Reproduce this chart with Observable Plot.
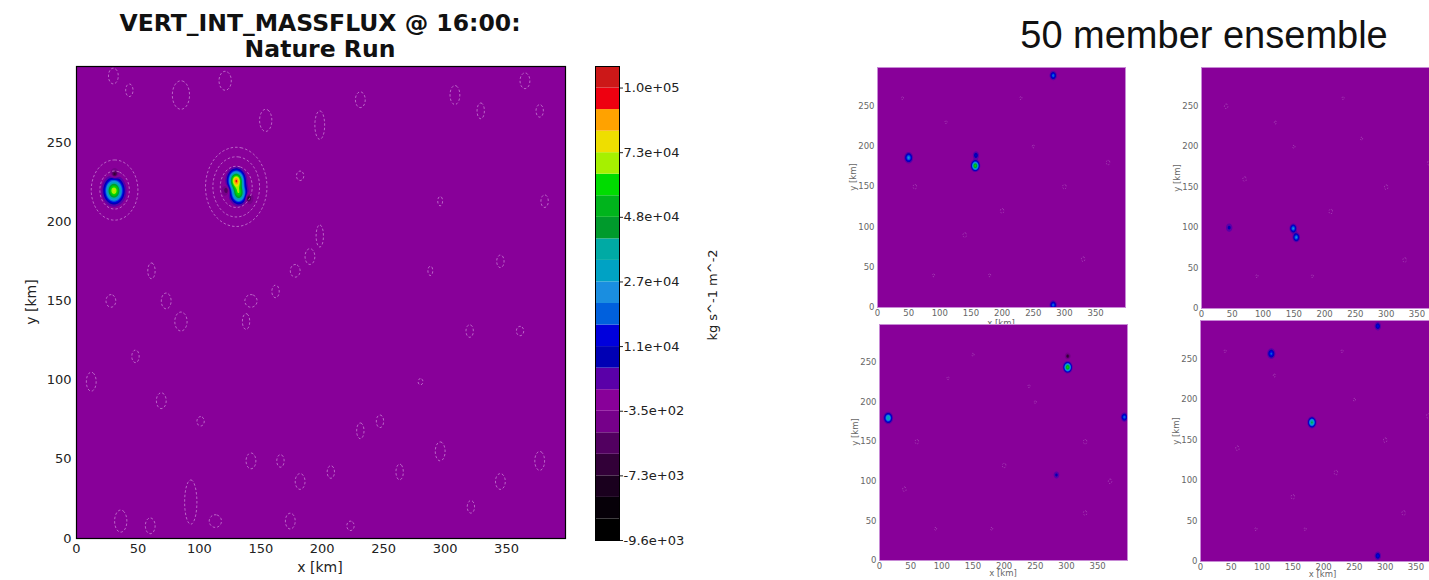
<!DOCTYPE html>
<html><head><meta charset="utf-8">
<script src="https://cdn.jsdelivr.net/npm/d3@7"></script>
<script src="https://cdn.jsdelivr.net/npm/@observablehq/plot@0.6"></script>
<style>
html,body{margin:0;padding:0;background:#fff;}
#root{position:relative;width:1429px;height:580px;overflow:hidden;background:#fff;}
#root svg{position:absolute;display:block;overflow:visible;}
.t{position:absolute;white-space:nowrap;transform:translate(-50%,-50%);line-height:1;}
.r{transform:translate(-50%,-50%) rotate(-90deg);}
</style></head>
<body><div id="root"></div>
<script>
// ---------- contour levels & colour bands (colorbar) ----------
const levels = [-9600, -8800, -8000, -7300, -5000, -2700, -350, 3000, 7000, 11000, 16000, 21500,
                27000, 34000, 41000, 48000, 56000, 64500, 73000, 82000, 91000, 100000, 110000];
const bandColors = ["#000000", "#060008", "#1a001e", "#320038", "#520060", "#76008a", "#880099",
                    "#5a00a8", "#0000b4", "#0000dc", "#0060dd", "#1a8ee0", "#00a2c4", "#00aaa4",
                    "#009a2c", "#00b41c", "#00dc00", "#a6f000", "#eede00", "#ffa200", "#ee0010", "#cc1818"];
const cbarTickValues = [-9600, -7300, -350, 11000, 27000, 48000, 73000, 100000];
const cbarTickLabels = ["-9.6e+03", "-7.3e+03", "-3.5e+02", "1.1e+04", "2.7e+04", "4.8e+04", "7.3e+04", "1.0e+05"];
const xTicks = [0, 50, 100, 150, 200, 250, 300, 350];
const yTicks = [0, 50, 100, 150, 200, 250];

// ---------- Nature run: convective cores (km, kg s^-1 m^-2, km) ----------
const hotX     = [30.5, 130, 132, 31, 139.5, 122.5];
const hotY     = [219.6, 226, 218, 229.5, 215, 220];
const hotPeak  = [74000, 90000, 60000, -9000, -9000, -7000];
const hotSigma = [4.0, 3.4, 3.4, 1.8, 1.8, 1.8];
// gravity-wave rings around the cores
const ringX = [130, 130, 130, 31, 31];
const ringY = [222, 222, 222, 220, 220];
const ringR = [13, 19, 25, 12, 19];
// weak cells (dashed outlines)
const cellX  = [30,43,85,121,154,198,231,308,329,365,377,182,190,198,178,162,142,138,85,73,61,28,12,48,69,101,142,166,182,207,231,296,321,345,377,280,247,263,93,113,36,60,174,223,288,345,296,381,320,361];
const cellY  = [292,283,280,289,264,261,277,280,270,289,270,229,178,191,169,156,150,137,137,150,169,150,99,115,87,74,49,49,36,42,68,55,20,36,49,99,74,42,23,11,11,8,11,8,169,175,213,213,131,131];
const cellRX = [4,3,7,5,5,4,4,4,3,4,3,3,4,3,4,3,5,3,5,4,3,4,4,3,4,3,4,3,4,3,3,4,3,4,4,2,3,3,5,5,5,4,4,3,2,3,2,3,3,3];
const cellRY = [5,4,9,6,7,9,5,6,5,5,4,3,5,7,4,4,4,5,6,5,5,4,6,4,5,3,5,4,5,4,5,6,4,5,6,2,4,5,14,4,7,5,5,3,3,4,3,4,4,3];

// ---------- ensemble members ----------
const tlX = [50, 157, 158, 282, 282], tlY = [186, 176, 189, 288, 3];
const tlPeak = [24000, 62000, 12000, 20000, 20000], tlSigma = [3.5, 3.2, 3.0, 3.0, 3.0];
const trX = [45, 149, 154], trY = [100, 99, 88];
const trPeak = [9000, 24000, 24000], trSigma = [3.5, 3.0, 3.0];
const blX = [14, 302, 393, 284, 302], blY = [180, 244, 181, 108, 258];
const blPeak = [36000, 62000, 20000, 9000, -8000], blSigma = [3.5, 3.2, 3.0, 3.0, 1.8];
const brX = [115, 288, 181, 288], brY = [257, 291, 172, 7];
const brPeak = [18000, 14000, 45000, 14000], brSigma = [3.5, 3.0, 3.2, 3.0];
const tlCellX = [60,110,200,250,330,90,300,180,370,230,140,40], tlCellY = [150,230,120,200,60,40,150,40,180,260,90,260];
const trCellX = [70,120,210,260,330,90,300,180,370,230,40,150], trCellY = [160,230,120,210,60,40,150,40,180,260,250,200];
const blCellX = [60,110,200,250,330,90,330,180,370,150,40,240], blCellY = [150,230,120,200,60,40,150,40,100,260,90,220];
const brCellX = [60,120,220,250,330,90,300,170,370,230,150,40], brCellY = [140,230,110,200,60,40,150,40,180,260,80,260];
const smallCellR = [3,2,3,2,3,2,3,2,3,2,3,2];

// ---------- helpers ----------
function gaussField(xs, ys, peaks, sig) {
  return (x, y) => {
    let v = 0;
    for (let i = 0; i < xs.length; i++) {
      const dx = x - xs[i], dy = y - ys[i];
      v += peaks[i] * Math.exp(-(dx * dx + dy * dy) / (2 * sig[i] * sig[i]));
    }
    return v;
  };
}
function cellField(cx, cy, rx, ry) {
  return (x, y) => {
    let m = -1e9;
    for (let i = 0; i < cx.length; i++) {
      const a = (x - cx[i]) / rx[i], b = (y - cy[i]) / ry[i];
      const v = 1 - a * a - b * b;
      if (v > m) m = v;
    }
    return m;
  };
}
const colorScale = {type: "threshold", domain: levels.slice(1, levels.length - 1), range: bandColors};
const dom = {x1: 0, x2: 398, y1: 0, y2: 298};
const dashStroke = {fill: "none", stroke: "#dca8e6", strokeWidth: 0.8, strokeDasharray: "2.5,2", strokeOpacity: 0.75};

const root = document.getElementById("root");
function place(el, left, top) { el.style.left = left + "px"; el.style.top = top + "px"; root.appendChild(el); }
function text(str, x, y, css, rot) {
  const d = document.createElement("div");
  d.className = "t" + (rot ? " r" : "");
  d.textContent = str;
  d.style.cssText += css;
  d.style.left = x + "px"; d.style.top = y + "px";
  root.appendChild(d);
}

// ---------- main panel ----------
const mainSvg = Plot.plot({
  width: 600, height: 580, marginLeft: 76, marginRight: 35, marginTop: 66, marginBottom: 42,
  x: {domain: [0, 398], ticks: xTicks, tickSize: 0, tickPadding: 5, label: null},
  y: {domain: [0, 298], ticks: yTicks, tickSize: 0, tickPadding: 5, label: null},
  color: colorScale,
  style: {fontFamily: "DejaVu Sans", fontSize: "13px", color: "#222", background: "transparent"},
  marks: [
    Plot.contour({...dom, fill: gaussField(hotX, hotY, hotPeak, hotSigma), thresholds: levels, pixelSize: 1, stroke: "none"}),
    Plot.contour({...dom, value: cellField(cellX, cellY, cellRX, cellRY), thresholds: [0], pixelSize: 1, ...dashStroke}),
    ...ringR.map((r, i) => Plot.contour({...dom, value: (x, y) => Math.hypot(x - ringX[i], y - ringY[i]), thresholds: [r], pixelSize: 1, ...dashStroke})),
    Plot.frame({stroke: "#000", strokeWidth: 1.2})
  ]
});
place(mainSvg, 0, 0);

// ---------- colorbar ----------
const bands = bandColors.map((c, i) => ({i, c}));
const cbar = Plot.plot({
  width: 130, height: 580, marginLeft: 0, marginRight: 106, marginTop: 66, marginBottom: 40,
  x: {domain: [0, 1], axis: null},
  y: {domain: [0, bandColors.length], axis: "right", ticks: cbarTickValues.map(v => levels.indexOf(v)),
      tickFormat: d => cbarTickLabels[cbarTickValues.indexOf(levels[d])], tickSize: 3, tickPadding: 1, label: null},
  style: {fontFamily: "DejaVu Sans", fontSize: "13px", color: "#222", background: "transparent"},
  marks: [
    Plot.rect(bands, {x1: 0, x2: 1, y1: "i", y2: d => d.i + 1, fill: "c"}),
    Plot.frame({stroke: "#000"})
  ]
});
place(cbar, 595, 0);

// ---------- texts (left) ----------
text("VERT_INT_MASSFLUX @ 16:00:", 320, 23, "font:bold 23.5px 'DejaVu Sans';color:#111;");
text("Nature Run", 320, 49, "font:bold 23.5px 'DejaVu Sans';color:#111;");
text("x [km]", 320, 567, "font:14px 'DejaVu Sans';color:#222;");
text("y [km]", 31, 302, "font:14px 'DejaVu Sans';color:#222;", true);
text("kg s^-1 m^-2", 712, 295, "font:13px 'DejaVu Sans';color:#222;", true);
text("50 member ensemble", 1204, 35, "font:38px 'Liberation Sans';color:#111;");

// ---------- ensemble panels ----------
function panel(hx, hy, hp, hs, cx, cy, left, top, fw, fh, labOff) {
  const mL = 32, mR = 4, mT = 4, mB = 16;
  const svg = Plot.plot({
    width: fw + mL + mR, height: fh + mT + mB, marginLeft: mL, marginRight: mR, marginTop: mT, marginBottom: mB,
    x: {domain: [0, 398], ticks: xTicks, tickSize: 0, tickPadding: 2, label: null},
    y: {domain: [0, 298], ticks: yTicks, tickSize: 0, tickPadding: 3, label: null},
    color: colorScale,
    style: {fontFamily: "DejaVu Sans", fontSize: "8.5px", color: "#666", background: "transparent"},
    marks: [
      Plot.contour({...dom, fill: gaussField(hx, hy, hp, hs), thresholds: levels, pixelSize: 1, stroke: "none"}),
      Plot.contour({...dom, value: cellField(cx, cy, smallCellR, smallCellR), thresholds: [0], pixelSize: 1,
                    fill: "none", stroke: "#c890d4", strokeWidth: 0.6, strokeDasharray: "1.5,1.5", strokeOpacity: 0.6}),
      Plot.frame({stroke: "#c88ad6", strokeWidth: 1})
    ]
  });
  place(svg, left - mL, top - mT);
  text("x [km]", left + fw / 2, top + fh + labOff, "font:8.5px 'DejaVu Sans';color:#666;");
  text("y [km]", left - 24, top + fh / 2 - 10, "font:8.5px 'DejaVu Sans';color:#666;", true);
}
panel(tlX, tlY, tlPeak, tlSigma, tlCellX, tlCellY, 877, 67, 248, 240, 16);
panel(trX, trY, trPeak, trSigma, trCellX, trCellY, 1201, 67, 245, 241, 16);
panel(blX, blY, blPeak, blSigma, blCellX, blCellY, 879, 324, 248, 236, 13);
panel(brX, brY, brPeak, brSigma, brCellX, brCellY, 1200, 320, 245, 241, 13);
</script>
</body></html>
